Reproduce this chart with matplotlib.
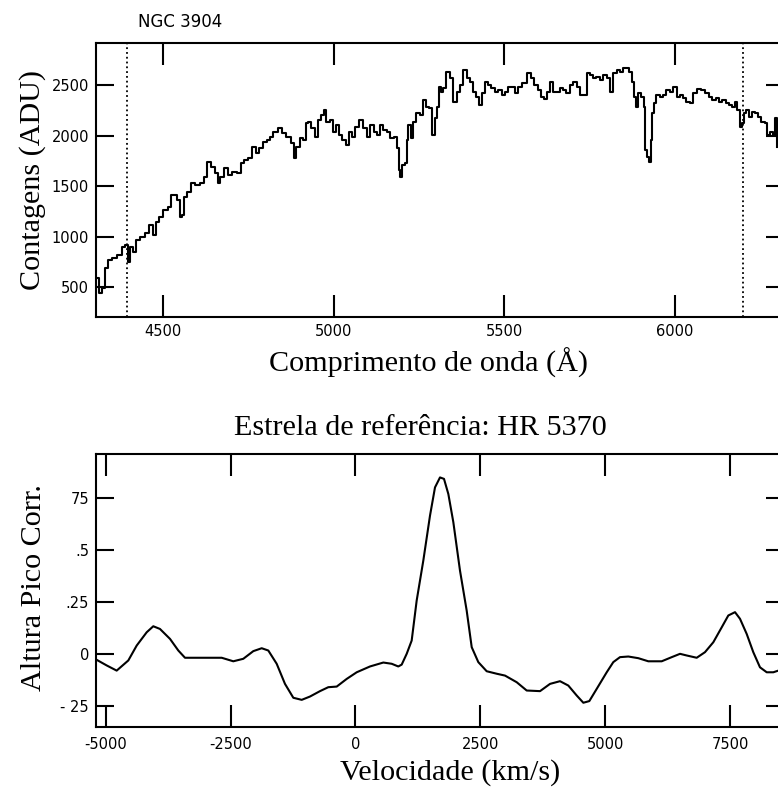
import numpy as np
import matplotlib
matplotlib.use("Agg")
import matplotlib.pyplot as plt

# espectro NGC 3904
wave = [4308, 4317, 4324, 4332, 4342, 4356, 4371, 4386, 4393, 4399, 4408, 4415, 4425, 4440,
        4454, 4464, 4474, 4484, 4493, 4508, 4518, 4526, 4537, 4545, 4552, 4559, 4562, 4576,
        4586, 4601, 4616, 4625, 4635, 4647, 4655, 4664, 4672, 4684, 4694, 4708, 4723, 4733,
        4743, 4752, 4767, 4777, 4787, 4801, 4811, 4817, 4827, 4846, 4851, 4871, 4880, 4885,
        4895, 4905, 4915, 4922, 4929, 4939, 4949, 4959, 4966, 4975, 4983, 4993, 5003, 5012,
        5020, 5030, 5040, 5050, 5059, 5066, 5081, 5093, 5102, 5112, 5122, 5132, 5141, 5151,
        5161, 5171, 5181, 5188, 5194, 5198, 5206, 5212, 5216, 5223, 5230, 5237, 5247, 5259,
        5267, 5276, 5286, 5293, 5299, 5306, 5314, 5317, 5326, 5336, 5346, 5356, 5365, 5375,
        5385, 5395, 5405, 5414, 5424, 5431, 5439, 5449, 5458, 5468, 5478, 5488, 5497, 5507,
        5517, 5527, 5537, 5546, 5561, 5574, 5583, 5593, 5603, 5613, 5620, 5629, 5639, 5649,
        5659, 5669, 5678, 5688, 5698, 5708, 5717, 5727, 5737, 5747, 5757, 5766, 5776, 5786,
        5796, 5805, 5815, 5825, 5835, 5845, 5854, 5864, 5871, 5877, 5884, 5890, 5898, 5906,
        5912, 5916, 5923, 5928, 5933, 5935, 5942, 5952, 5962, 5971, 5981, 5991, 6001, 6011,
        6020, 6030, 6040, 6050, 6060, 6069, 6084, 6096, 6106, 6116, 6125, 6135, 6145, 6155,
        6165, 6174, 6180, 6187, 6194, 6200, 6206, 6213, 6221, 6233, 6241, 6250, 6260, 6268,
        6275, 6285, 6292, 6298, 6301]
counts = [589, 441, 490, 688, 770, 787, 819, 901, 918, 753, 901, 852, 968, 1000,
          1034, 1116, 1017, 1149, 1198, 1264, 1297, 1413, 1413, 1363, 1198, 1215, 1396, 1445,
          1528, 1511, 1528, 1594, 1742, 1692, 1627, 1528, 1594, 1676, 1610, 1643, 1627, 1726,
          1759, 1775, 1890, 1825, 1874, 1940, 1956, 1989, 2038, 2072, 2022, 1989, 1923, 1775,
          1890, 1973, 1956, 2121, 2138, 2072, 1989, 2154, 2203, 2253, 2138, 2154, 2038, 2105,
          2006, 1956, 1907, 2038, 1989, 2088, 2154, 2072, 1989, 2105, 2038, 2006, 2105, 2055,
          2038, 1973, 1989, 1874, 1660, 1594, 1709, 1726, 1956, 2105, 1973, 2138, 2220, 2203,
          2352, 2286, 2270, 2006, 2171, 2286, 2484, 2434, 2467, 2632, 2566, 2335, 2434, 2500,
          2648, 2566, 2533, 2434, 2385, 2302, 2418, 2533, 2500, 2467, 2434, 2451, 2401, 2434,
          2484, 2484, 2418, 2484, 2517, 2616, 2566, 2500, 2451, 2385, 2358, 2434, 2533, 2434,
          2434, 2467, 2451, 2418, 2500, 2533, 2484, 2401, 2401, 2616, 2599, 2566, 2583, 2550,
          2599, 2566, 2434, 2616, 2648, 2632, 2665, 2665, 2632, 2533, 2385, 2286, 2418, 2385,
          2286, 1857, 1791, 1742, 1956, 2220, 2319, 2401, 2385, 2401, 2451, 2434, 2484, 2385,
          2401, 2368, 2335, 2319, 2418, 2457, 2451, 2418, 2385, 2352, 2368, 2335, 2352, 2319,
          2302, 2286, 2335, 2253, 2088, 2121, 2220, 2253, 2187, 2237, 2220, 2187, 2138, 2121,
          2006, 2038, 2006, 2171, 1890]
lines_top = [4395, 6201]
xticks_top = [4500, 5000, 5500, 6000]
yticks_top = [500, 1000, 1500, 2000, 2500]

# correlacao cruzada
vel = [-5180, -4980, -4780, -4547, -4379, -4179, -4047, -3913, -3712, -3546, -3412, -3112,
       -2677, -2445, -2245, -2044, -1876, -1744, -1576, -1410, -1243, -1075, -909, -709,
       -543, -374, -174, 26, 292, 559, 727, 859, 927, 1027, 1127, 1227, 1360, 1494, 1594,
       1694, 1774, 1861, 1961, 2094, 2228, 2329, 2461, 2629, 2829, 2996, 3230, 3430, 3697,
       3897, 4097, 4263, 4431, 4564, 4684, 4832, 5032, 5164, 5298, 5465, 5665, 5865, 6133,
       6334, 6500, 6634, 6834, 7000, 7167, 7335, 7467, 7601, 7701, 7835, 7967, 8101, 8236,
       8368, 8468]
corr = [-0.029, -0.056, -0.081, -0.032, 0.040, 0.104, 0.133, 0.120, 0.072, 0.016, -0.019,
        -0.019, -0.019, -0.036, -0.024, 0.013, 0.027, 0.016, -0.048, -0.145, -0.212, -0.222,
        -0.206, -0.180, -0.161, -0.158, -0.121, -0.089, -0.061, -0.042, -0.048, -0.061,
        -0.052, 0.0, 0.064, 0.257, 0.450, 0.667, 0.803, 0.851, 0.844, 0.771, 0.635, 0.402,
        0.209, 0.032, -0.040, -0.084, -0.096, -0.105, -0.137, -0.177, -0.180, -0.145, -0.132,
        -0.153, -0.201, -0.236, -0.228, -0.169, -0.089, -0.040, -0.016, -0.013, -0.021,
        -0.036, -0.036, -0.016, 0.0, -0.008, -0.019, 0.008, 0.056, 0.128, 0.185, 0.201,
        0.169, 0.096, 0.008, -0.065, -0.089, -0.089, -0.081]
xticks_bot = [-5000, -2500, 0, 2500, 5000, 7500]
yticks_bot = [-0.25, 0, 0.25, 0.5, 0.75]
ylabels_bot = ['- 25', '0', '.25', '.5', '75']

serif = 'Liberation Serif'
tickfont = {'family': 'DejaVu Sans', 'size': 10.5}
big = 21.7

fig = plt.figure(figsize=(7.78, 7.87), dpi=100)
W, H = 778.0, 787.0


def px_axes(left, top, right, bottom):
    return fig.add_axes([left / W, 1 - bottom / H, (right - left) / W, (bottom - top) / H])


def style(ax):
    for s in ax.spines.values():
        s.set_linewidth(1.5)
    ax.tick_params(axis='x', direction='in', top=True, bottom=True, length=16, width=1.5, pad=5)
    ax.tick_params(axis='y', direction='in', left=True, right=True, length=13, width=1.5, pad=5)
    for lab in ax.get_xticklabels() + ax.get_yticklabels():
        lab.set_fontfamily(tickfont['family'])
        lab.set_fontsize(tickfont['size'])


# painel de cima
ax1 = px_axes(96, 43, 784, 317)
ax1.plot(wave, counts, color='black', lw=1.5, drawstyle='steps-mid')
for x in lines_top:
    ax1.axvline(x, color='black', lw=1.3, ls=':')
ax1.set_xlim(4303, 6321)
ax1.set_ylim(206, 2915)
ax1.set_xticks(xticks_top)
ax1.set_xticklabels([str(t) for t in xticks_top])
ax1.set_yticks(yticks_top)
ax1.set_yticklabels([str(t) for t in yticks_top])
style(ax1)

# painel de baixo
ax2 = px_axes(96, 454, 784, 727)
ax2.plot(vel, corr, color='black', lw=1.5)
ax2.set_xlim(-5194, 8582)
ax2.set_ylim(-0.353, 0.964)
ax2.set_xticks(xticks_bot)
ax2.set_xticklabels([str(t) for t in xticks_bot])
ax2.set_yticks(yticks_bot)
ax2.set_yticklabels(ylabels_bot)
style(ax2)
ax2.tick_params(axis='x', pad=7)

# textos
fig.text(180 / W, 1 - 22 / H, 'NGC 3904', family='DejaVu Sans', fontsize=12,
         ha='center', va='center')
fig.text(33 / W, 1 - 180 / H, 'Contagens (ADU)', family=serif, fontsize=big,
         rotation=90, ha='center', va='center')
fig.text(429 / W, 1 - 363 / H, 'Comprimento de onda (Å)', family=serif, fontsize=big,
         ha='center', va='center')
fig.text(420 / W, 1 - 428 / H, 'Estrela de referência: HR 5370', family=serif, fontsize=big,
         ha='center', va='center')
fig.text(34 / W, 1 - 588 / H, 'Altura Pico Corr.', family=serif, fontsize=big,
         rotation=90, ha='center', va='center')
fig.text(450 / W, 1 - 773 / H, 'Velocidade (km/s)', family=serif, fontsize=big,
         ha='center', va='center')

fig.savefig('out.png', dpi=100)
